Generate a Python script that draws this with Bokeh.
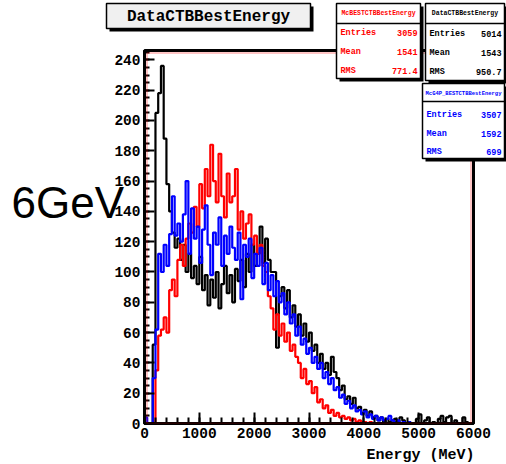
from bokeh.plotting import figure
from bokeh.models import Range1d, SingleIntervalTicker, BoxAnnotation
from bokeh.core.properties import value
from bokeh.embed import file_html
from bokeh.resources import INLINE

# ---------------- data (50 MeV bins, 0 - 6000 MeV) ----------------
BIN_WIDTH = 50
N_BINS = 120

data_black = [
    0, 0, 0, 52, 205, 218, 236, 188, 158, 140,
    126, 116, 122, 108, 118, 100, 112, 96, 104, 92,
    110, 88, 98, 78, 95, 83, 100, 76, 92, 104,
    86, 98, 80, 102, 94, 108, 90, 112, 100, 118,
    104, 112, 130, 106, 122, 108, 100, 100, 50, 84,
    90, 76, 88, 70, 78, 64, 72, 58, 66, 54,
    60, 48, 52, 40, 46, 36, 40, 32, 44, 34,
    30, 22, 25, 16, 18, 13, 17, 10, 11, 7,
    9, 5, 8, 4, 5, 2, 4, 1, 3, 1,
    2, 3, 1, 4, 2, 0, 1, 0, 0, 3,
    6, 0, 2, 4, 0, 1, 0, 3, 5, 1,
    4, 5, 0, 2, 0, 0, 4, 1, 0, 0,
]

mc_red = [
    0, 0, 0, 0, 35, 58, 62, 70, 60, 88,
    95, 84, 108, 118, 104, 122, 132, 126, 143, 130,
    158, 142, 168, 150, 184, 160, 146, 178, 150, 136,
    165, 146, 150, 168, 128, 140, 122, 132, 138, 118,
    124, 112, 118, 104, 100, 84, 76, 62, 72, 58,
    66, 54, 60, 48, 52, 44, 40, 30, 36, 26,
    28, 20, 24, 14, 16, 10, 12, 7, 9, 5,
    7, 4, 5, 3, 4, 2, 3, 1, 2, 1,
    1, 0, 1, 0, 0, 0, 0, 0, 0, 0,
    0, 0, 0, 0, 0, 0, 0, 0, 0, 0,
    0, 0, 0, 0, 0, 0, 0, 0, 0, 0,
    0, 0, 0, 0, 0, 0, 0, 0, 0, 0,
]

mc_blue = [
    4, 0, 0, 30, 62, 112, 100, 118, 104, 125,
    150, 124, 132, 120, 138, 160, 112, 142, 122, 130,
    106, 128, 144, 118, 98, 126, 118, 136, 104, 124,
    112, 130, 116, 108, 126, 82, 118, 110, 122, 96,
    112, 104, 116, 92, 106, 88, 98, 84, 94, 80,
    86, 72, 80, 66, 72, 58, 64, 52, 56, 46,
    50, 40, 44, 36, 40, 30, 34, 26, 30, 22,
    24, 17, 19, 13, 15, 10, 12, 8, 9, 6,
    8, 4, 6, 3, 5, 2, 4, 2, 3, 5,
    2, 1, 2, 0, 1, 0, 1, 0, 0, 0,
    0, 0, 0, 0, 0, 0, 0, 0, 0, 0,
    0, 0, 0, 0, 0, 0, 0, 0, 0, 0,
]

title_text = "DataCTBBestEnergy"
side_text = "6GeV"
x_label = "Energy (MeV)"

stat_names = ["Entries", "Mean", "RMS"]
red_header = "McBESTCTBBestEnergy"
red_stats = ["3059", "1541", "771.4"]
black_header = "DataCTBBestEnergy"
black_stats = ["5014", "1543", "950.7"]
blue_header = "McG4P_BESTCTBBestEnergy"
blue_stats = ["3507", "1592", "699"]

# ---------------- layout ----------------
W, H = 506, 464
L, R, T, B = 144, 473, 50, 423
XMAX = 6000
YMAX = 246.2
MONO = "Liberation Mono"

edges = [i * BIN_WIDTH for i in range(N_BINS + 1)]

# ---------------- main histogram figure ----------------
fig = figure(width=W, height=H, output_backend="svg", toolbar_location=None,
             x_range=Range1d(0, XMAX), y_range=Range1d(0, YMAX),
             min_border_left=L, min_border_right=W - R,
             min_border_top=T, min_border_bottom=H - B)
fig.grid.visible = False
fig.background_fill_color = "white"
fig.border_fill_color = "white"
fig.outline_line_color = "black"
fig.outline_line_width = 3

fig.xaxis.ticker = SingleIntervalTicker(interval=1000, num_minor_ticks=5)
fig.yaxis.ticker = SingleIntervalTicker(interval=20, num_minor_ticks=4)
for ax in (fig.xaxis, fig.yaxis):
    ax.axis_line_width = 3
    ax.axis_line_color = "black"
    ax.major_tick_out = 0
    ax.minor_tick_out = 0
    ax.major_tick_line_width = 2
    ax.minor_tick_line_width = 2
    ax.major_label_text_font = MONO
    ax.major_label_text_font_style = "bold"
    ax.major_label_text_font_size = "14.5px"
    ax.major_label_text_color = "black"
    ax.major_label_standoff = 4
fig.xaxis.major_tick_in = 11
fig.xaxis.minor_tick_in = 6
fig.yaxis.major_tick_in = 10
fig.yaxis.minor_tick_in = 5


def dx(px):
    return (px - L) / (R - L) * XMAX


def dy(py):
    return (B - py) / (B - T) * YMAX


# inner red frame line
fig.add_layout(BoxAnnotation(left=dx(L + 2.5), right=dx(R - 2.5), top=dy(T + 2.5), bottom=0,
                             fill_alpha=0, line_color="red", line_width=1.5))

for vals, col in ((data_black, "black"), (mc_red, "red"), (mc_blue, "blue")):
    fig.step(x=edges, y=list(vals) + [vals[-1]], mode="after",
             line_color=col, line_width=2.2)

# ---------------- overlay (pixel coordinates, y downwards) ----------------
ov = figure(width=W, height=H, output_backend="svg", toolbar_location=None,
            x_range=Range1d(0, W), y_range=Range1d(H, 0),
            x_axis_type=None, y_axis_type=None, min_border=0,
            background_fill_alpha=0, border_fill_alpha=0,
            outline_line_color=None)
ov.stylesheets = [":host { margin-top: -%dpx !important; }" % H]


def box(x0, y0, x1, y1, fill, shadow=3):
    ov.quad(left=[x0 + shadow], right=[x1 + shadow], top=[y0 + shadow], bottom=[y1 + shadow],
            fill_color="black", line_color=None)
    ov.quad(left=[x0], right=[x1], top=[y0], bottom=[y1],
            fill_color=fill, line_color="black", line_width=1.5)


def text(px, py, s, size, color="black", align="left", baseline="middle",
         font=MONO, style="bold"):
    ov.text(x=[px], y=[py], text=[s], text_font=value(font),
            text_font_style=style, text_font_size=size,
            text_color=color, text_align=align, text_baseline=baseline)


# title box
box(106, 3, 310, 28, "#f0f0f0")
text(208, 16, title_text, "16px", align="center")


def stats_box(x0, y0, x1, y1, header_y, line_y, rows_y, header, vals, color, hsize):
    box(x0, y0, x1, y1, "white")
    ov.segment(x0=[x0], y0=[line_y], x1=[x1], y1=[line_y], line_color="black", line_width=1.5)
    text((x0 + x1) / 2, header_y, header, hsize, color=color, align="center")
    for nm, v, ry in zip(stat_names, vals, rows_y):
        text(x0 + 4, ry, nm, "8.5px", color=color)
        text(x1 - 3, ry, v, "8.5px", color=color, align="right")


stats_box(336, 3, 420, 78, 13, 23, [32, 51, 70], red_header, red_stats, "red", "6.5px")
stats_box(425, 3, 504, 80, 13, 23, [33, 52, 71], black_header, black_stats, "black", "6.5px")
stats_box(422, 83, 504, 158, 93, 101, [114, 133, 151], blue_header, blue_stats, "blue", "5.5px")

text(11, 202, side_text, "44px", align="left", baseline="alphabetic",
     font="Liberation Sans", style="normal")
text(474, 446, x_label, "15px", align="right", baseline="top")

p = [fig, ov]
open("out.html", "w").write(file_html(p, INLINE))
